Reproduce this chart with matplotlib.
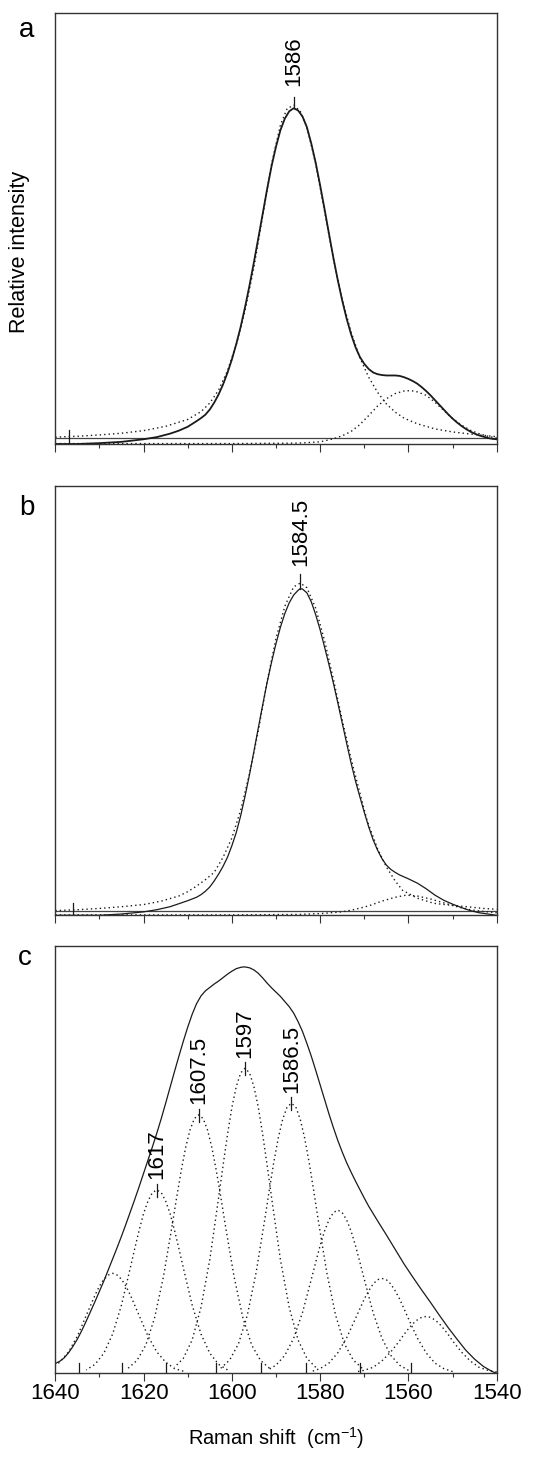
import matplotlib
matplotlib.use("Agg")
import matplotlib.pyplot as plt
import matplotlib.ticker as ptick

plt.rcParams['font.family'] = ['Liberation Sans', 'DejaVu Sans']

# ---- panel a ----
a_sum_x = [1640, 1635, 1630, 1625, 1620, 1617, 1614, 1612, 1610, 1608, 1607, 1606, 1605, 1604, 1603, 1602,
           1601, 1600, 1599, 1598, 1597, 1596, 1595, 1594, 1593, 1592, 1591, 1590, 1589, 1588, 1587, 1586,
           1585, 1584, 1583, 1582, 1581, 1580, 1579, 1578, 1577, 1576, 1575, 1574, 1573, 1572, 1571, 1570,
           1569, 1568, 1567, 1566, 1565, 1564, 1563, 1562, 1561, 1560, 1559, 1558, 1557, 1556, 1555, 1554,
           1553, 1552, 1551, 1550, 1549, 1548, 1547, 1546, 1545, 1544, 1543, 1542, 1541, 1540]
a_sum_y = [0.000, 0.000, 0.002, 0.005, 0.011, 0.016, 0.024, 0.031, 0.040, 0.053, 0.060, 0.068, 0.080, 0.096, 0.115, 0.138,
           0.165, 0.196, 0.232, 0.272, 0.318, 0.368, 0.422, 0.478, 0.535, 0.592, 0.645, 0.690, 0.728, 0.755, 0.772, 0.779,
           0.774, 0.760, 0.735, 0.697, 0.652, 0.600, 0.545, 0.488, 0.432, 0.380, 0.333, 0.291, 0.255, 0.225, 0.202, 0.186,
           0.174, 0.166, 0.162, 0.160, 0.159, 0.159, 0.159, 0.158, 0.155, 0.151, 0.146, 0.140, 0.132, 0.123, 0.113, 0.102,
           0.091, 0.080, 0.069, 0.059, 0.050, 0.042, 0.035, 0.029, 0.024, 0.020, 0.017, 0.014, 0.012, 0.011]
a_p1_x = [1640, 1635, 1630, 1625, 1620, 1615, 1610, 1607, 1605, 1603, 1601, 1599, 1597, 1595, 1593,
          1591, 1589, 1587.5, 1586, 1584.5, 1583, 1581, 1579, 1577, 1575, 1573, 1571, 1569, 1567, 1565,
          1563, 1561, 1558, 1554, 1550, 1545, 1540]
a_p1_y = [0.016, 0.018, 0.021, 0.025, 0.031, 0.041, 0.057, 0.075, 0.095, 0.125, 0.170, 0.230, 0.310, 0.410,
          0.530, 0.650, 0.740, 0.778, 0.786, 0.772, 0.735, 0.650, 0.540, 0.430, 0.335, 0.260, 0.200, 0.155,
          0.120, 0.093, 0.074, 0.060, 0.047, 0.035, 0.028, 0.022, 0.017]
a_p2_x = [1640, 1600, 1585, 1580, 1577, 1575, 1573, 1571, 1569, 1567, 1565, 1563, 1561, 1559.5, 1558,
          1556, 1554, 1552, 1550, 1548, 1546, 1544, 1542, 1540]
a_p2_y = [0.001, 0.001, 0.002, 0.005, 0.012, 0.019, 0.029, 0.045, 0.066, 0.088, 0.105, 0.117, 0.123, 0.124,
          0.121, 0.113, 0.097, 0.078, 0.059, 0.044, 0.032, 0.024, 0.018, 0.014]
a_base = 0.013
a_mark = 1637
a_label = 1586

# ---- panel b ----
b_sum_x = [1640, 1630, 1625, 1620, 1617, 1614, 1612, 1610, 1608, 1607, 1606, 1605, 1604, 1603, 1602, 1601,
           1600, 1599, 1598, 1597, 1596, 1595, 1594, 1593, 1592, 1591, 1590, 1589, 1588, 1587, 1586, 1585,
           1584.5, 1584, 1583, 1582, 1581, 1580, 1579, 1578, 1577, 1576, 1575, 1574, 1573, 1572, 1571, 1570,
           1569, 1568, 1567, 1566, 1565, 1564, 1563, 1562, 1560, 1558, 1556, 1554, 1552, 1550, 1548, 1546,
           1544, 1542, 1540]
b_sum_y = [0.000, 0.000, 0.003, 0.008, 0.013, 0.020, 0.027, 0.034, 0.042, 0.048, 0.056, 0.066, 0.080, 0.096, 0.114, 0.135,
           0.162, 0.193, 0.232, 0.278, 0.328, 0.382, 0.437, 0.491, 0.543, 0.590, 0.633, 0.671, 0.703, 0.728, 0.746, 0.757,
           0.761, 0.760, 0.751, 0.730, 0.700, 0.665, 0.625, 0.584, 0.541, 0.495, 0.448, 0.401, 0.355, 0.313, 0.276, 0.240,
           0.206, 0.176, 0.152, 0.132, 0.117, 0.107, 0.100, 0.094, 0.085, 0.075, 0.062, 0.047, 0.035, 0.026, 0.018, 0.011,
           0.006, 0.003, 0.000]
b_p1_x = [1640, 1635, 1630, 1625, 1620, 1616, 1612, 1610, 1608, 1606, 1604, 1602, 1600, 1598, 1596, 1594,
          1592, 1590, 1588, 1586, 1584.5, 1583, 1581, 1579, 1577, 1575, 1573, 1571, 1569.4, 1567, 1565,
          1563, 1561.3, 1558, 1554.3, 1550, 1546.8, 1543, 1540]
b_p1_y = [0.011, 0.013, 0.016, 0.020, 0.025, 0.033, 0.045, 0.055, 0.068, 0.083, 0.100, 0.135, 0.180, 0.245, 0.330, 0.430,
          0.545, 0.645, 0.720, 0.765, 0.774, 0.763, 0.715, 0.640, 0.550, 0.455, 0.365, 0.285, 0.222, 0.155, 0.113,
          0.080, 0.058, 0.040, 0.028, 0.023, 0.020, 0.016, 0.014]
b_p2_x = [1640, 1600, 1585, 1580, 1575, 1572, 1569, 1566, 1563, 1560.5, 1558, 1555, 1552, 1549, 1546, 1543, 1540]
b_p2_y = [0.001, 0.001, 0.002, 0.004, 0.008, 0.014, 0.022, 0.033, 0.042, 0.047, 0.045, 0.038, 0.029, 0.020,
          0.013, 0.009, 0.006]
b_base = 0.011
b_mark = 1636
b_label = "1584.5"
b_label_x = 1584.5

# ---- panel c ----
c_sum_x = [1640, 1639, 1638, 1637, 1636, 1635, 1634, 1633, 1632, 1631, 1630, 1629, 1628, 1627, 1626, 1625,
           1624, 1623, 1622, 1621, 1620, 1619, 1618, 1617, 1616, 1615, 1614, 1613, 1612, 1611, 1610, 1609,
           1608, 1607, 1606, 1605, 1604, 1603, 1602, 1601, 1600, 1599, 1598, 1597.4, 1597, 1596, 1595, 1594,
           1593, 1592, 1591, 1590, 1589, 1588, 1587, 1586, 1585, 1584, 1583, 1582, 1581, 1580, 1579, 1578,
           1577, 1576, 1575, 1574, 1573, 1572, 1571, 1570, 1569, 1567, 1565, 1563, 1561, 1559, 1557, 1555,
           1553, 1551, 1549, 1547, 1545, 1543, 1541, 1540]
c_sum_y = [0.023, 0.028, 0.036, 0.048, 0.063, 0.080, 0.100, 0.122, 0.145, 0.168, 0.192, 0.216, 0.242, 0.268, 0.294, 0.321,
           0.349, 0.378, 0.407, 0.437, 0.468, 0.499, 0.530, 0.562, 0.596, 0.632, 0.669, 0.706, 0.742, 0.777, 0.810, 0.840,
           0.865, 0.883, 0.895, 0.903, 0.911, 0.918, 0.926, 0.934, 0.941, 0.947, 0.950, 0.951, 0.951, 0.949, 0.944, 0.936,
           0.925, 0.913, 0.902, 0.892, 0.882, 0.870, 0.858, 0.843, 0.823, 0.800, 0.772, 0.742, 0.709, 0.675, 0.641, 0.607,
           0.575, 0.545, 0.518, 0.493, 0.471, 0.450, 0.430, 0.410, 0.391, 0.357, 0.324, 0.290, 0.256, 0.225, 0.195, 0.166,
           0.136, 0.107, 0.080, 0.054, 0.033, 0.016, 0.004, 0.000]

# fitted components, read at offsets -16..16 around each centre
c_offsets = [-16, -14, -12, -10, -8, -6, -5, -4, -3, -2, -1, 0, 1, 2, 3, 4, 5, 6, 8, 10, 12, 14, 16]
c_centres = [1627, 1617, 1607.5, 1597, 1586.5, 1576, 1566, 1556]
c1_y = [0.005, 0.011, 0.026, 0.050, 0.087, 0.135, 0.159, 0.183, 0.204, 0.220, 0.230, 0.234,
        0.230, 0.220, 0.204, 0.183, 0.159, 0.135, 0.087, 0.050, 0.026, 0.011, 0.005]
c2_y = [0.008, 0.021, 0.047, 0.092, 0.160, 0.247, 0.292, 0.335, 0.374, 0.403, 0.423, 0.429,
        0.423, 0.403, 0.374, 0.335, 0.292, 0.247, 0.160, 0.092, 0.047, 0.021, 0.008]
c3_y = [0.012, 0.030, 0.066, 0.130, 0.226, 0.348, 0.412, 0.473, 0.527, 0.569, 0.596, 0.605,
        0.596, 0.569, 0.527, 0.473, 0.412, 0.348, 0.226, 0.130, 0.066, 0.030, 0.012]
c4_y = [0.014, 0.035, 0.078, 0.154, 0.266, 0.411, 0.486, 0.558, 0.622, 0.671, 0.703, 0.714,
        0.703, 0.671, 0.622, 0.558, 0.486, 0.411, 0.266, 0.154, 0.078, 0.035, 0.014]
c5_y = [0.012, 0.031, 0.069, 0.136, 0.236, 0.363, 0.430, 0.494, 0.550, 0.594, 0.623, 0.632,
        0.623, 0.594, 0.550, 0.494, 0.430, 0.363, 0.236, 0.136, 0.069, 0.031, 0.012]
c6_y = [0.007, 0.019, 0.042, 0.082, 0.142, 0.220, 0.260, 0.299, 0.333, 0.359, 0.376, 0.382,
        0.376, 0.359, 0.333, 0.299, 0.260, 0.220, 0.142, 0.082, 0.042, 0.019, 0.007]
c7_y = [0.004, 0.011, 0.024, 0.048, 0.083, 0.128, 0.151, 0.174, 0.193, 0.209, 0.219, 0.222,
        0.219, 0.209, 0.193, 0.174, 0.151, 0.128, 0.083, 0.048, 0.024, 0.011, 0.004]
c8_y = [0.003, 0.007, 0.014, 0.029, 0.050, 0.076, 0.091, 0.104, 0.116, 0.125, 0.131, 0.133,
        0.131, 0.125, 0.116, 0.104, 0.091, 0.076, 0.050, 0.029, 0.014, 0.007, 0.003]
c_marks = [1634.6, 1625, 1615, 1603.7, 1593.5, 1583.3, 1571, 1559.4]
c_labels = ["1617", "1607.5", "1597", "1586.5"]
c_label_x = [1617, 1607.5, 1597, 1586.5]
c_label_peak = [0.429, 0.605, 0.714, 0.632]

dot = (0, (1.0, 2.2))
ink = '#1a1a1a'
frame = '#333333'

fig = plt.figure(figsize=(5.59, 14.57), dpi=100)
W, H = 559.0, 1457.0
def box(l, r, t, b):
  return [l / W, 1 - b / H, (r - l) / W, (b - t) / H]

ax_a = fig.add_axes(box(55.3, 496.7, 13, 444))
ax_b = fig.add_axes(box(55.3, 496.7, 486, 915.3))
ax_c = fig.add_axes(box(55.3, 496.7, 946, 1373.3))

for ax in [ax_a, ax_b, ax_c]:
  ax.set_xlim(1640, 1540)
  ax.set_ylim(0, 1)
  ax.set_yticks([])
  ax.xaxis.set_major_locator(ptick.MultipleLocator(20))
  ax.xaxis.set_minor_locator(ptick.MultipleLocator(10))
  ax.tick_params(axis='x', which='major', direction='out', length=6, width=0.8, color=frame, pad=1,
                 labelsize=16)
  ax.tick_params(axis='x', which='minor', direction='out', length=3, width=0.8, color=frame)
  for s in ax.spines.values():
    s.set_color(frame)
    s.set_linewidth(1.0)

# panel a
ax_a.tick_params(axis='x', labelbottom=False)
ax_a.axhline(a_base, color='#444444', lw=0.9)
ax_a.plot([a_mark, a_mark], [0, 0.032], color=ink, lw=0.9)
ax_a.plot(a_p1_x, a_p1_y, color=ink, lw=1.0, ls=dot)
ax_a.plot(a_p2_x, a_p2_y, color=ink, lw=1.0, ls=dot)
ax_a.plot(a_sum_x, a_sum_y, color=ink, lw=1.3)
ax_a.plot([a_label, a_label], [0.779, 0.806], color=ink, lw=0.9)
ax_a.text(a_label, 0.83, str(a_label), rotation=90, ha='center', va='bottom', fontsize=16)

# panel b
ax_b.tick_params(axis='x', labelbottom=False)
ax_b.axhline(b_base, color='#444444', lw=0.9)
ax_b.plot([b_mark, b_mark], [0, 0.028], color=ink, lw=0.9)
ax_b.plot(b_p1_x, b_p1_y, color=ink, lw=1.0, ls=dot)
ax_b.plot(b_p2_x, b_p2_y, color=ink, lw=1.0, ls=dot)
ax_b.plot(b_sum_x, b_sum_y, color=ink, lw=0.9)
ax_b.plot([b_label_x, b_label_x], [0.761, 0.796], color=ink, lw=0.9)
ax_b.text(b_label_x, 0.813, b_label, rotation=90, ha='center', va='bottom', fontsize=16)

# panel c
for cc, cy in zip(c_centres, [c1_y, c2_y, c3_y, c4_y, c5_y, c6_y, c7_y, c8_y]):
  ax_c.plot([cc + d for d in c_offsets], cy, color=ink, lw=1.0, ls=dot)
ax_c.plot(c_sum_x, c_sum_y, color=ink, lw=0.9)
for m in c_marks:
  ax_c.plot([m, m], [0, 0.025], color=ink, lw=0.9)
for lab, lx, pk in zip(c_labels, c_label_x, c_label_peak):
  ax_c.plot([lx, lx], [pk - 0.016, pk + 0.014], color=ink, lw=0.9)
  ax_c.text(lx, pk + 0.025, lab, rotation=90, ha='center', va='bottom', fontsize=16)

fig.text(27 / W, 1 - 37 / H, "a", fontsize=20, ha='center', va='baseline')
fig.text(27 / W, 1 - 515 / H, "b", fontsize=20, ha='center', va='baseline')
fig.text(25 / W, 1 - 965 / H, "c", fontsize=20, ha='center', va='baseline')
fig.text(20 / W, 1 - 252 / H, "Relative intensity", fontsize=15.5, rotation=90, ha='center', va='center')
fig.text(276 / W, 1 - 1445 / H, r"Raman shift  (cm$^{\mathregular{-1}}$)", fontsize=14.5,
         ha='center', va='baseline')

fig.savefig("out.png", dpi=100)
